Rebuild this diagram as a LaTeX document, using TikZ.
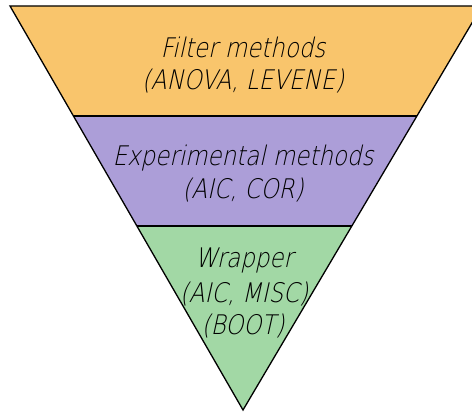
\documentclass[tikz,border=0pt]{standalone}
\usepackage{fontspec}
\newfontfamily\isofont{DejaVu Sans ExtraLight}[FakeSlant=0.22,FakeStretch=0.85]
\usetikzlibrary{calc}
\definecolor{bandorange}{RGB}{249,197,108}
\definecolor{bandpurple}{RGB}{172,158,216}
\definecolor{bandgreen}{RGB}{162,216,165}
\tikzset{
  band/.style={draw=black, line width=1.3pt, line join=miter},
  label/.style={anchor=base, inner sep=0pt, font=\isofont\fontsize{27}{32}\selectfont},
}
\begin{document}
\begin{tikzpicture}[x=1pt,y=-1pt]
  \useasboundingbox (0,0) rectangle (472,412);
  \clip (0,0) rectangle (472,412);
  % corners of the funnel
  \coordinate (TL) at (10,6);
  \coordinate (TR) at (482,6);
  \coordinate (A)  at (243,410);
  % band boundaries along the sloped sides
  \coordinate (L1) at ($(TL)!0.2723!(A)$);
  \coordinate (R1) at ($(TR)!0.2723!(A)$);
  \coordinate (L2) at ($(TL)!0.5446!(A)$);
  \coordinate (R2) at ($(TR)!0.5446!(A)$);
  % the three bands
  \fill[bandorange] (TL) -- (TR) -- (R1) -- (L1) -- cycle;
  \fill[bandpurple] (L1) -- (R1) -- (R2) -- (L2) -- cycle;
  \fill[bandgreen]  (L2) -- (R2) -- (A) -- cycle;
  \draw[band] (TL) -- (TR) -- (A) -- cycle;
  \draw[band] (L1) -- (R1);
  \draw[band] (L2) -- (R2);
  % labels
  \node[label] (filter)  at (243,58)  {Filter methods};
  \node[label] (filterB) at (243,90)  {(ANOVA, LEVENE)};
  \node[label] (exper)   at (243,165) {Experimental methods};
  \node[label] (experB)  at (243,198) {(AIC, COR)};
  \node[label] (wrap)    at (244,267) {Wrapper};
  \node[label] (wrapB)   at (244,302) {(AIC, MISC)};
  \node[label] (wrapC)   at (243,334) {(BOOT)};
\end{tikzpicture}
\end{document}
